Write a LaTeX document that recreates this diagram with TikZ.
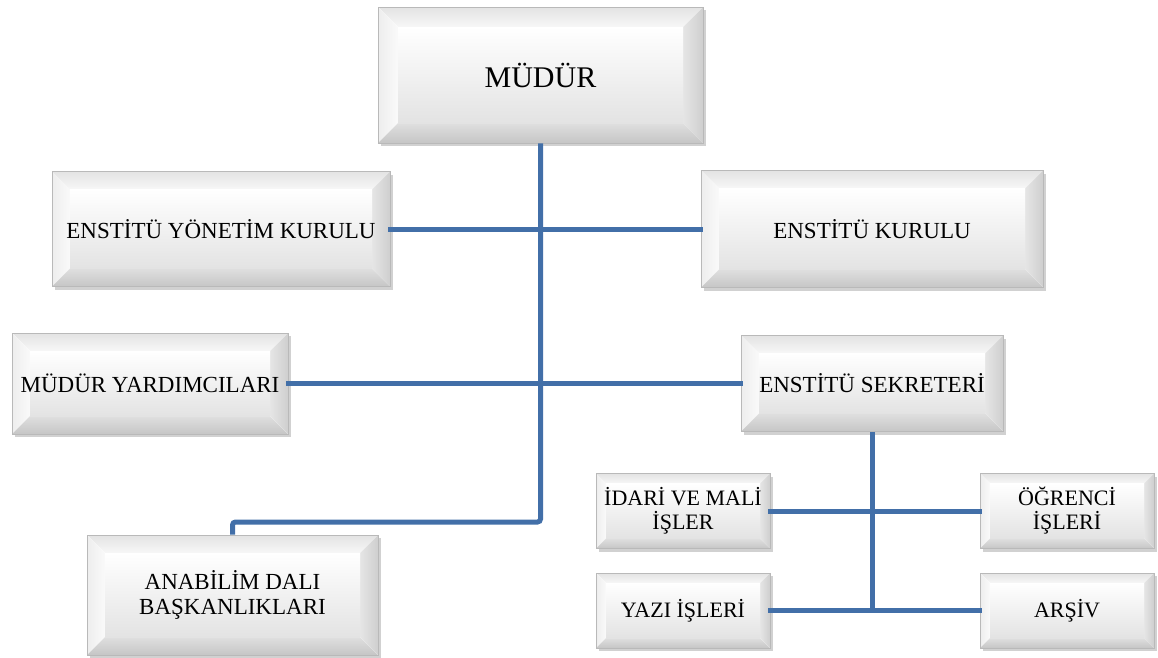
\documentclass[tikz,border=0pt]{standalone}
\usepackage{fontspec}
\setmainfont{Liberation Serif}
\usetikzlibrary{shadows}
\definecolor{conncol}{RGB}{66,111,168}
\newcommand\bevpaint[1]{%
  \coordinate (pNW) at (path picture bounding box.north west);
  \coordinate (pNE) at (path picture bounding box.north east);
  \coordinate (pSW) at (path picture bounding box.south west);
  \coordinate (pSE) at (path picture bounding box.south east);
  \coordinate (qNW) at ([shift={(#1,-#1)}]pNW);
  \coordinate (qNE) at ([shift={(-#1,-#1)}]pNE);
  \coordinate (qSW) at ([shift={(#1,#1)}]pSW);
  \coordinate (qSE) at ([shift={(-#1,#1)}]pSE);
  \fill[top color=gray!22, bottom color=gray!6] (pNW)--(pNE)--(qNE)--(qNW)--cycle;
  \fill[left color=gray!14, right color=gray!4] (pNW)--(qNW)--(qSW)--(pSW)--cycle;
  \fill[left color=gray!20, right color=gray!38] (pNE)--(qNE)--(qSE)--(pSE)--cycle;
  \fill[top color=gray!25, bottom color=gray!45] (pSW)--(qSW)--(qSE)--(pSE)--cycle;
  \shade[top color=white, bottom color=gray!22] (qNW) rectangle (qSE);
}
\tikzset{
  bevbox/.style={rectangle, fill=white, draw=gray!55, line width=0.6pt,
    inner sep=0pt, align=center, font=\fontsize{23}{25}\selectfont,
    drop shadow={shadow xshift=2.5pt, shadow yshift=-3pt, opacity=0.45, fill=gray!80},
    path picture={\bevpaint{#1}}},
  bevbox/.default=18pt,
  smallbox/.style={bevbox=10pt, minimum width=174pt, minimum height=75pt,
    font=\fontsize{22}{24}\selectfont},
  conn/.style={draw=conncol, line width=5pt, line cap=rect},
}
\begin{document}
\begin{tikzpicture}[x=1pt, y=-1pt]
\useasboundingbox[fill=white] (0,0) rectangle (1158,657);
% boxes
\node[bevbox=20pt, minimum width=325pt, minimum height=136pt,
      font=\fontsize{30}{32}\selectfont] (mudur) at (540.5,75) {MÜDÜR};
\node[bevbox, minimum width=338pt, minimum height=115pt] (eyk) at (221,229) {ENSTİTÜ YÖNETİM KURULU};
\node[bevbox, minimum width=342pt, minimum height=117pt] (ek) at (872,229) {ENSTİTÜ KURULU};
\node[bevbox, minimum width=276pt, minimum height=101pt] (my) at (150,383.5) {MÜDÜR YARDIMCILARI};
\node[bevbox, minimum width=262pt, minimum height=96pt] (es) at (872,383.5) {ENSTİTÜ SEKRETERİ};
\node[bevbox, minimum width=291pt, minimum height=120pt] (anab) at (232.5,595) {ANABİLİM DALI\\BAŞKANLIKLARI};
\node[smallbox] (idari) at (683,511) {İDARİ VE MALİ\\İŞLER};
\node[smallbox] (yazi) at (683,610.5) {YAZI İŞLERİ};
\node[smallbox] (ogr) at (1067,511) {ÖĞRENCİ\\İŞLERİ};
\node[smallbox] (arsiv) at (1067,610.5) {ARŞİV};
% junctions
\coordinate (j) at (540.5,522);
\coordinate (k) at (872,610.5);
% connectors
\draw[conn] (eyk.east) -- (ek.west);
\draw[conn] (my.east) -- (es.west);
\draw[conn, line cap=butt, rounded corners=3pt] (mudur.south) -- (j) -| (anab.north);
\draw[conn] (idari.east) -- (ogr.west);
\draw[conn] (yazi.east) -- (arsiv.west);
\draw[conn, line cap=butt] (es.south) -- (k);
\end{tikzpicture}
\end{document}
